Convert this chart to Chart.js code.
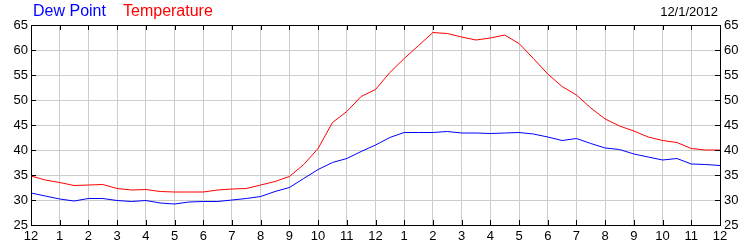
<!DOCTYPE html>
<html>
<head>
<meta charset="utf-8">
<script src="https://cdn.jsdelivr.net/npm/chart.js@4"></script>
<style>
    body { margin: 0; background: #fff; }
    #wrap { position: relative; width: 750px; height: 250px; font-family: "Liberation Sans", Arial, sans-serif; }
    .lbl { position: absolute; top: 2px; font-size: 16px; white-space: nowrap; }
    #date { position: absolute; top: 4px; right: 32px; font-size: 13px; color: #000; }
</style>
</head>
<body>
<div id="wrap">
    <canvas id="weatherChart" width="750" height="250"></canvas>
    <span class="lbl" style="left:33px;color:#0000ff">Dew Point</span>
    <span class="lbl" style="left:123px;color:#ff0000">Temperature</span>
    <span id="date">12/1/2012</span>
</div>
<script>
// horas desde a meia-noite
const hours = [0, 0.5, 1, 1.5, 2, 2.5, 3, 3.5, 4, 4.5, 5, 5.5, 6, 6.5, 7, 7.5, 8, 8.5,
    9, 9.5, 10, 10.5, 11, 11.5, 12, 12.5, 13, 13.5, 14, 14.5, 15, 15.5, 16, 16.5,
    17, 17.5, 18, 18.5, 19, 19.5, 20, 20.5, 21, 21.5, 22, 22.5, 23, 23.5, 24];

const temperature = [34.8, 34.0, 33.5, 32.9, 33.0, 33.1, 32.3, 32.0, 32.1, 31.7, 31.6, 31.6,
    31.6, 32.0, 32.2, 32.3, 33.0, 33.7, 34.7, 37.1, 40.3, 45.5, 47.7, 50.7, 52.1, 55.5,
    58.3, 60.9, 63.5, 63.3, 62.6, 62.0, 62.4, 63.0, 61.3, 58.3, 55.2, 52.7, 51.0, 48.4,
    46.2, 44.8, 43.8, 42.6, 41.9, 41.5, 40.3, 40.0, 40.0];

const dewPoint = [31.4, 30.8, 30.2, 29.8, 30.3, 30.3, 29.9, 29.7, 29.9, 29.4, 29.2, 29.6,
    29.7, 29.7, 30.0, 30.3, 30.7, 31.7, 32.5, 34.3, 36.1, 37.5, 38.3, 39.7, 41.0, 42.5,
    43.5, 43.5, 43.5, 43.7, 43.4, 43.4, 43.3, 43.4, 43.5, 43.2, 42.6, 41.9, 42.3, 41.3,
    40.4, 40.1, 39.2, 38.6, 38.0, 38.3, 37.2, 37.1, 36.9];

const hourLabels = ['12', '1', '2', '3', '4', '5', '6', '7', '8', '9', '10', '11',
    '12', '1', '2', '3', '4', '5', '6', '7', '8', '9', '10', '11', '12'];

const FONT = { family: '"Liberation Sans", Arial, sans-serif', size: 13 };

// moldura preta e tracinhos para dentro
const frameTicks = {
    id: 'frameTicks',
    afterDraw(chart) {
        const { ctx, chartArea: a, scales } = chart;
        ctx.save();
        ctx.strokeStyle = '#000';
        ctx.lineWidth = 1;
        ctx.beginPath();
        scales.x.ticks.forEach(t => {
            const x = Math.round(scales.x.getPixelForValue(t.value)) + 0.5;
            ctx.moveTo(x, a.top); ctx.lineTo(x, a.top + 5);
            ctx.moveTo(x, a.bottom); ctx.lineTo(x, a.bottom - 5);
        });
        scales.y.ticks.forEach(t => {
            const y = Math.round(scales.y.getPixelForValue(t.value)) + 0.5;
            ctx.moveTo(a.left, y); ctx.lineTo(a.left + 5, y);
            ctx.moveTo(a.right, y); ctx.lineTo(a.right - 5, y);
        });
        ctx.stroke();
        ctx.strokeRect(Math.round(a.left) + 0.5, Math.round(a.top) + 0.5,
            Math.round(a.right - a.left), Math.round(a.bottom - a.top));
        ctx.restore();
    }
};

function toPoints(values) {
    return values.map((v, i) => ({ x: hours[i], y: v }));
}

document.addEventListener('DOMContentLoaded', function() {
    const ctx = document.getElementById('weatherChart').getContext('2d');
    new Chart(ctx, {
        type: 'line',
        data: {
            datasets: [{
                label: 'Dew Point',
                data: toPoints(dewPoint),
                borderColor: '#0000ff',
                borderWidth: 1,
                pointRadius: 0,
                tension: 0
            }, {
                label: 'Temperature',
                data: toPoints(temperature),
                borderColor: '#ff0000',
                borderWidth: 1,
                pointRadius: 0,
                tension: 0
            }]
        },
        options: {
            responsive: false,
            animation: false,
            devicePixelRatio: 1,
            layout: { padding: { top: 25, left: 0, right: 0, bottom: 0 } },
            plugins: { legend: { display: false }, tooltip: { enabled: false } },
            scales: {
                x: {
                    type: 'linear',
                    min: 0,
                    max: 24,
                    afterFit: s => { s.height = 25; },
                    ticks: {
                        stepSize: 1,
                        color: '#000',
                        font: FONT,
                        padding: 4,
                        maxRotation: 0,
                        autoSkip: false,
                        callback: v => hourLabels[v]
                    },
                    grid: { color: '#cccccc', drawTicks: false },
                    border: { display: false }
                },
                y: {
                    position: 'left',
                    min: 25,
                    max: 65,
                    afterFit: s => { s.width = 31; },
                    ticks: { stepSize: 5, color: '#000', font: FONT, padding: 3 },
                    grid: { color: '#cccccc', drawTicks: false },
                    border: { display: false }
                },
                y2: {
                    position: 'right',
                    min: 25,
                    max: 65,
                    afterFit: s => { s.width = 30; },
                    ticks: { stepSize: 5, color: '#000', font: FONT, padding: 4 },
                    grid: { display: false, drawTicks: false },
                    border: { display: false }
                }
            }
        },
        plugins: [frameTicks]
    });
});
</script>
</body>
</html>
